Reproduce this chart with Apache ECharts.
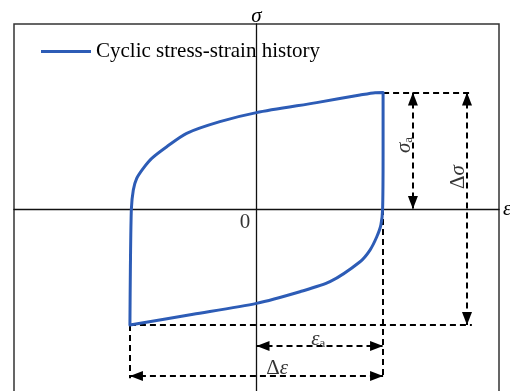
<!DOCTYPE html>
<html><head><meta charset="utf-8">
<script src="https://cdn.jsdelivr.net/npm/echarts@6/dist/echarts.min.js"></script>
<style>html,body{margin:0;padding:0;background:#fff}#c{width:510px;height:391px}</style>
</head><body><div id="c"></div>
<script>
// Hysteresis loop (normalised strain / stress units)
const loopStrain = [-0.522,-0.520,-0.516,-0.508,-0.494,-0.467,-0.432,-0.370,-0.288,-0.151,0.0,0.248,0.427,0.489,0.522,0.522,0.520,0.513,0.496,0.468,0.427,0.303,0.179,0.0,-0.261,-0.522];
const loopStress = [-0.627,-0.310,0.0,0.103,0.166,0.220,0.274,0.337,0.409,0.472,0.521,0.575,0.616,0.629,0.630,0.300,0.0,-0.086,-0.150,-0.222,-0.285,-0.393,-0.447,-0.510,-0.569,-0.627];
const seriesName = 'Cyclic stress-strain history';
const tickLabels = ['0'];

// characteristic values
const strainAmp = 0.522;      // ε_a
const stressMax = 0.630;      // σ_max
const stressMin = -0.627;     // σ_min

// annotation guide positions (data units)
const sigmaArrowX = 0.645;
const deltaSigmaArrowX = 0.868;
const guideRightX = 0.888;
const epsArrowY = -0.741;
const deltaEpsArrowY = -0.903;
const guideBottomY = -0.915;

const FONT = '"Liberation Serif","Times New Roman",serif';
const loopData = loopStrain.map((x, i) => [x, loopStress[i]]);

function arrowPt(coord) {
  return {coord: coord, symbol: 'triangle', symbolSize: [10, 13], symbolOffset: [0, 6.5]};
}
function plainPt(coord) {
  return {coord: coord, symbol: 'none'};
}

const guideLines = [
  [plainPt([strainAmp, stressMax]), plainPt([guideRightX, stressMax])],
  [plainPt([-strainAmp, stressMin]), plainPt([guideRightX, stressMin])],
  [plainPt([strainAmp, 0]), plainPt([strainAmp, guideBottomY])],
  [plainPt([-strainAmp, stressMin]), plainPt([-strainAmp, guideBottomY])],
  [arrowPt([sigmaArrowX, stressMax]), arrowPt([sigmaArrowX, 0])],
  [arrowPt([deltaSigmaArrowX, stressMax]), arrowPt([deltaSigmaArrowX, stressMin])],
  [arrowPt([0, epsArrowY]), arrowPt([strainAmp, epsArrowY])],
  [arrowPt([-strainAmp, deltaEpsArrowY]), arrowPt([strainAmp, deltaEpsArrowY])]
];

const richStyles = {
  g: {fontFamily: FONT, fontStyle: 'italic', fontSize: 21, lineHeight: 24, color: '#000', verticalAlign: 'bottom'},
  d: {fontFamily: FONT, fontSize: 21, lineHeight: 24, color: '#000', verticalAlign: 'bottom'},
  n: {fontFamily: FONT, fontSize: 21, lineHeight: 24, color: '#000'},
  s: {fontFamily: FONT, fontSize: 13, lineHeight: 13, color: '#000', verticalAlign: 'bottom'}
};

const textLabels = [
  {value: [0.255, -0.697], text: '{g|ε}{s|a}', rotate: 0},
  {value: [0.085, -0.852], text: '{d|Δ}{g|ε}', rotate: 0},
  {value: [0.604, 0.346], text: '{g|σ}{s|a}', rotate: 90},
  {value: [0.827, 0.173], text: '{d|Δ}{g|σ}', rotate: 90},
  {value: [-0.047, -0.072], text: '{n|' + tickLabels[0] + '}', rotate: 0}
];

const chart = echarts.init(document.getElementById('c'), null, {renderer: 'canvas'});
chart.setOption({
  animation: false,
  backgroundColor: '#fff',
  grid: {left: 14, right: 11, top: 24, height: 370, outerBoundsMode: 'none', containLabel: false,
         show: true, borderColor: '#333', borderWidth: 1.5, backgroundColor: 'transparent'},
  legend: {
    data: [seriesName], left: 36, top: 36, icon: 'rect', itemWidth: 50, itemHeight: 3, itemGap: 5,
    textStyle: {fontFamily: FONT, fontSize: 21, color: '#000'}
  },
  xAxis: {
    type: 'value', min: -1, max: 1, interval: 1,
    axisLine: {onZero: true, lineStyle: {color: '#111', width: 1.3}},
    axisTick: {show: false}, splitLine: {show: false}, axisLabel: {show: false},
    name: 'ε', nameLocation: 'end', nameGap: 4,
    nameTextStyle: {fontFamily: FONT, fontStyle: 'italic', fontSize: 21, color: '#000'}
  },
  yAxis: {
    type: 'value', min: -1, max: 1, interval: 1,
    axisLine: {onZero: true, lineStyle: {color: '#111', width: 1.3}},
    axisTick: {show: false}, splitLine: {show: false}, axisLabel: {show: false},
    name: 'σ', nameLocation: 'end', nameGap: -3,
    nameTextStyle: {fontFamily: FONT, fontStyle: 'italic', fontSize: 21, color: '#000'}
  },
  series: [
    {
      name: seriesName, type: 'line', data: loopData, showSymbol: false, symbol: 'none', z: 5,
      smooth: 0.25,
      lineStyle: {color: '#2d5cb6', width: 3, join: 'round', cap: 'round'},
      itemStyle: {color: '#2d5cb6'},
      silent: true
    },
    {
      name: 'guides', type: 'line', data: [], silent: true, z: 4,
      markLine: {
        silent: true, animation: false, symbol: ['none', 'none'],
        label: {show: false}, emphasis: {disabled: true},
        lineStyle: {color: '#000', width: 2, type: [6, 4]},
        itemStyle: {color: '#000'},
        data: guideLines
      }
    },
    {
      name: 'labels', type: 'scatter', symbolSize: 0, silent: true, z: 6,
      data: textLabels.map(t => ({
        value: t.value,
        label: {show: true, position: 'inside', formatter: t.text, rotate: t.rotate, rich: richStyles, color: '#000'}
      }))
    }
  ]
});
</script>
</body></html>
